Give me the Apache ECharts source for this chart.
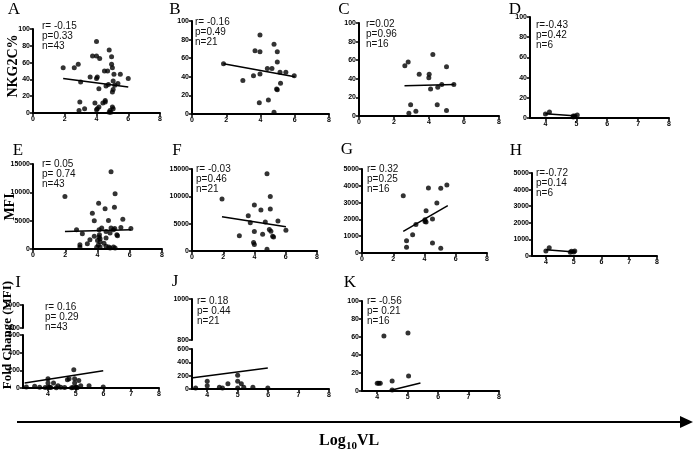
<!DOCTYPE html>
<html>
<head>
<meta charset="utf-8">
<script src="https://cdn.jsdelivr.net/npm/echarts@6/dist/echarts.min.js"></script>
<style>
html, body { margin: 0; padding: 0; background: #fff; }
#main { width: 696px; height: 456px; }
</style>
</head>
<body>
<div id="main"></div>
<script>
// values (x = log10 VL)
// A: NKG2C% , all
var aX = [1.9, 2.6, 2.85, 3.0, 2.95, 2.9, 3.25, 3.6, 3.75, 4.0, 4.0, 4.2, 4.0, 4.05, 4.15, 3.9, 4.05, 4.15, 4.4, 4.55, 4.55, 4.5, 4.7, 4.6, 4.75, 4.8, 4.95, 4.95, 5.0, 5.05, 5.0, 5.0, 5.05, 4.85, 4.8, 4.9, 5.1, 5.5, 5.15, 5.35, 6.0, 5.05, 4.0];
var aY = [54, 54, 58, 37, 13, 3, 5, 43, 68, 85, 68, 65, 41, 43, 29, 12, 5, 7, 12, 15, 13, 50, 50, 32, 34, 75, 67, 58, 54, 28, 25, 7, 5, 3, 1, 1, 46, 46, 33, 35, 41, 38, 4];
var aFitX = [1.9, 6.0], aFitY = [41, 31];
// B
var bX = [1.84, 2.97, 3.59, 3.68, 3.97, 3.97, 3.97, 3.93, 4.4, 4.67, 4.46, 4.79, 4.79, 4.98, 4.98, 4.94, 4.98, 5.14, 5.17, 5.48, 5.97];
var bY = [54, 36, 41, 68, 85, 67, 43, 12, 49, 49, 15, 75, 2, 67, 56, 27, 26, 45, 33, 45, 41];
var bFitX = [1.84, 6.0], bFitY = [54, 40];
// C
var cX = [2.62, 2.81, 3.44, 4.01, 3.99, 4.09, 4.22, 4.5, 4.73, 5.42, 5.0, 2.95, 2.85, 3.25, 4.47, 5.0];
var cY = [54, 58, 45, 45, 41, 29, 66, 31, 34, 34, 53, 12, 3, 5, 12, 6];
var cFitX = [2.6, 5.45], cFitY = [32.5, 34];
// D
var dX = [4.0, 4.13, 4.9, 4.95, 5.03, 4.9];
var dY = [4, 6, 2, 2, 3, 1];
var dFitX = [4.0, 5.03], dFitY = [4.2, 2];
// E: MFI
var eX = [1.98, 2.7, 2.91, 2.91, 3.06, 3.37, 3.53, 3.68, 3.8, 3.8, 3.95, 4.07, 4.1, 4.12, 4.1, 4.16, 4.16, 4.05, 4.16, 4.26, 4.47, 4.53, 4.53, 4.53, 4.68, 4.78, 4.84, 4.84, 4.99, 5.09, 5.05, 5.07, 4.99, 5.09, 5.2, 5.24, 5.45, 5.57, 6.07, 4.78, 4.7, 4.0, 4.4];
var eY = [9260, 3400, 760, 350, 2700, 940, 1640, 6330, 4980, 2230, 290, 8090, 3400, 2520, 2110, 1820, 1290, 700, 350, 3690, 7090, 3100, 1930, 470, 5040, 2810, 13650, 3690, 350, 9730, 7380, 3630, 3400, 180, 2520, 2340, 3810, 5270, 3630, 180, 350, 1500, 1000];
var eFitX = [1.98, 6.07], eFitY = [3100, 3400];
// F
var fX = [1.92, 3.03, 3.6, 3.73, 3.99, 3.99, 3.94, 3.99, 4.41, 4.52, 4.69, 4.8, 4.8, 5.01, 5.01, 4.95, 5.05, 5.16, 5.22, 5.5, 6.01];
var fY = [9530, 2770, 6450, 5160, 8420, 3570, 1540, 1170, 7500, 3070, 5290, 14140, 310, 9960, 7680, 3930, 3630, 2700, 2580, 5470, 3810];
var fFitX = [1.92, 6.01], fFitY = [6270, 4430];
// G
var gX = [2.64, 2.85, 2.85, 3.24, 3.45, 4.03, 4.03, 4.1, 4.25, 4.51, 4.51, 4.79, 5.04, 5.04, 5.43, 4.1];
var gY = [3410, 730, 340, 1090, 1690, 1980, 1880, 2520, 3870, 2020, 600, 2980, 3850, 280, 4050, 1850];
var gFitX = [2.64, 5.49], gFitY = [1290, 2820];
// H
var hX = [4.0, 4.12, 4.88, 4.92, 5.0, 5.04];
var hY = [300, 500, 220, 280, 240, 300];
var hFitX = [4.0, 5.04], hFitY = [380, 240];
// I: fold change (MFI)
var iX = [3.22, 3.52, 3.7, 4.0, 4.0, 4.0, 4.06, 4.2, 4.36, 4.46, 4.7, 4.76, 4.93, 4.96, 4.96, 5.0, 5.02, 5.11, 5.18, 5.48, 5.99, 4.1, 4.3, 4.6, 4.85, 4.9, 5.05, 3.9];
var iY = [10, 19, 8, 105, 56, 8, 8, 56, 26, 8, 94, 105, 206, 105, 56, 8, 8, 86, 26, 26, 11, 5, 4, 6, 3, 5, 4, 6];
var iFitX = [3.16, 5.99], iFitY = [56, 195];
// J
var jX = [3.62, 4.0, 4.0, 4.4, 4.5, 4.68, 5.0, 5.0, 5.0, 5.12, 5.2, 5.5, 5.99];
var jY = [15, 115, 50, 25, 15, 80, 205, 115, 15, 80, 25, 25, 15];
var jFitX = [3.47, 5.99], jFitY = [165, 315];
// K
var kX = [4.0, 4.05, 4.1, 4.22, 4.49, 4.49, 5.01, 5.03];
var kY = [8.5, 8.5, 8.5, 61, 11, 1, 64.5, 16.6];
var kFitX = [4.35, 5.42], kFitY = [0, 9];

var stats = {
  A: ['r= -0.15', 'p=0.33', 'n=43'],
  B: ['r= -0.16', 'p=0.49', 'n=21'],
  C: ['r=0.02', 'p=0.96', 'n=16'],
  D: ['r=-0.43', 'p=0.42', 'n=6'],
  E: ['r= 0.05', 'p= 0.74', 'n=43'],
  F: ['r= -0.03', 'p=0.46', 'n=21'],
  G: ['r= 0.32', 'p=0.25', 'n=16'],
  H: ['r=-0.72', 'p=0.14', 'n=6'],
  I: ['r= 0.16', 'p= 0.29', 'n=43'],
  J: ['r= 0.18', 'p= 0.44', 'n=21'],
  K: ['r= -0.56', 'p= 0.21', 'n=16']
};
var logTicks = [4, 5, 6, 7, 8];

// layout: box = [left, top, width, height]
var panels = [
  { id: 'A', x: aX, y: aY, fx: aFitX, fy: aFitY, box: [33, 29, 127, 84], xr: [0, 8], yr: [0, 100, 20], st: [42, 21], lt: [14, 10] },
  { id: 'B', x: bX, y: bY, fx: bFitX, fy: bFitY, box: [192, 21, 137, 93], xr: [0, 8], yr: [0, 100, 20], st: [195, 17], lt: [175, 10] },
  { id: 'C', x: cX, y: cY, fx: cFitX, fy: cFitY, box: [359, 23, 140, 93], xr: [0, 8], yr: [0, 100, 20], st: [366, 19], lt: [344, 10] },
  { id: 'D', x: dX, y: dY, fx: dFitX, fy: dFitY, box: [530, 17, 139, 101], xr: [3.5, 8], yr: [0, 100, 20], st: [536, 20], lt: [515, 10] },
  { id: 'E', x: eX, y: eY, fx: eFitX, fy: eFitY, box: [33, 164, 129, 85], xr: [0, 8], yr: [0, 15000, 5000], st: [42, 159], lt: [18, 151] },
  { id: 'F', x: fX, y: fY, fx: fFitX, fy: fFitY, box: [192, 169, 125, 82], xr: [0, 8], yr: [0, 15000, 5000], st: [196, 164], lt: [177, 151] },
  { id: 'G', x: gX, y: gY, fx: gFitX, fy: gFitY, box: [362, 169, 125, 84], xr: [0, 8], yr: [0, 5000, 1000], st: [367, 164], lt: [347, 150] },
  { id: 'H', x: hX, y: hY, fx: hFitX, fy: hFitY, box: [532, 173, 125, 83], xr: [3.5, 8], yr: [0, 5000, 1000], st: [536, 168], lt: [516, 151] },
  { id: 'I', x: iX, y: iY, fx: iFitX, fy: iFitY, box: [23, 335, 136, 53], top: [23, 305, 136, 23], xr: [3.1, 8], yr: [0, 600, 200], st: [45, 302], lt: [18, 283] },
  { id: 'J', x: jX, y: jY, fx: jFitX, fy: jFitY, box: [192, 349, 137, 40], top: [192, 299, 137, 41], xr: [3.5, 8], yr: [0, 600, 200], st: [197, 296], lt: [175, 282] },
  { id: 'K', x: kX, y: kY, fx: kFitX, fy: kFitY, box: [362, 301, 137, 90], xr: [3.5, 8], yr: [0, 100, 20], st: [367, 296], lt: [350, 283] }
];

var grid = [], xAxis = [], yAxis = [], series = [], graphic = [];

function axisBase() {
  return {
    axisLine: { show: true, onZero: false, lineStyle: { color: '#000', width: 2 } },
    axisTick: { show: true, length: 3, lineStyle: { color: '#000', width: 1.5 } },
    axisLabel: {
      color: '#000', fontSize: 7, fontWeight: 'bold', fontFamily: 'Liberation Sans Narrow, Liberation Sans', margin: 3,
      formatter: function (v) { return String(v); }
    },
    splitLine: { show: false }
  };
}

function addGrid(box) {
  grid.push({ left: box[0], top: box[1], width: box[2], height: box[3] });
  return grid.length - 1;
}

panels.forEach(function (p) {
  var gi = addGrid(p.box);
  var xa = axisBase();
  xa.type = 'value'; xa.gridIndex = gi; xa.min = p.xr[0]; xa.max = p.xr[1];
  if (p.xr[0] === 0) {
    xa.interval = 2;
  } else {
    xa.interval = 1;
    xa.axisTick.customValues = logTicks;
    xa.axisLabel.customValues = logTicks;
  }
  xAxis.push(xa);
  var ya = axisBase();
  ya.type = 'value'; ya.gridIndex = gi; ya.min = p.yr[0]; ya.max = p.yr[1]; ya.interval = p.yr[2];
  yAxis.push(ya);

  series.push({
    type: 'scatter', xAxisIndex: gi, yAxisIndex: gi, symbolSize: 5,
    itemStyle: { color: '#000' }, silent: true,
    data: p.x.map(function (v, k) { return [v, p.y[k]]; })
  });
  series.push({
    type: 'line', xAxisIndex: gi, yAxisIndex: gi, symbol: 'none', silent: true,
    lineStyle: { color: '#000', width: 1.5 },
    data: p.fx.map(function (v, k) { return [v, p.fy[k]]; })
  });

  // upper piece of the broken axis
  if (p.top) {
    var ti = addGrid(p.top);
    xAxis.push({ type: 'value', gridIndex: ti, min: p.xr[0], max: p.xr[1], show: false });
    var yt = axisBase();
    yt.type = 'value'; yt.gridIndex = ti; yt.min = 800; yt.max = 1000; yt.interval = 200;
    yAxis.push(yt);
  }

  graphic.push({
    type: 'text', x: p.lt[0], y: p.lt[1],
    style: { text: p.id, fontFamily: 'Liberation Serif', fontSize: 17, fill: '#000', align: 'center', verticalAlign: 'middle' }
  });
  graphic.push({
    type: 'text', left: p.st[0], top: p.st[1],
    style: { text: stats[p.id].join('\n'), fontFamily: 'Liberation Sans Narrow, Liberation Sans', fontSize: 10, lineHeight: 10, fill: '#111' }
  });
});

var rowLab = { fontFamily: 'Liberation Serif', fontWeight: 'bold', fontSize: 14, fill: '#000', align: 'center', verticalAlign: 'middle' };
[['NKG2C%', 13, 66], ['MFI', 10, 207], ['Fold Change (MFI)', 8, 335]].forEach(function (r) {
  graphic.push({
    type: 'text', x: r[1], y: r[2], rotation: Math.PI / 2,
    style: Object.assign({ text: r[0] }, rowLab, r[0].length > 10 ? { fontSize: 13 } : {})
  });
});

// x direction arrow and its title
graphic.push({ type: 'line', shape: { x1: 17, y1: 422, x2: 682, y2: 422 }, style: { stroke: '#000', lineWidth: 2 } });
graphic.push({ type: 'polygon', shape: { points: [[680, 416], [693, 422], [680, 428]] }, style: { fill: '#000' } });
var labFont = { fontFamily: 'Liberation Serif', fontWeight: 'bold', fill: '#000', verticalAlign: 'middle' };
graphic.push({ type: 'text', x: 319, y: 441, style: Object.assign({ text: 'Log', fontSize: 16 }, labFont) });
graphic.push({ type: 'text', x: 346, y: 446, style: Object.assign({ text: '10', fontSize: 11 }, labFont) });
graphic.push({ type: 'text', x: 357, y: 441, style: Object.assign({ text: 'VL', fontSize: 16 }, labFont) });

var chart = echarts.init(document.getElementById('main'));
chart.setOption({
  animation: false,
  backgroundColor: '#fff',
  grid: grid,
  xAxis: xAxis,
  yAxis: yAxis,
  series: series,
  graphic: graphic
});
</script>
</body>
</html>
